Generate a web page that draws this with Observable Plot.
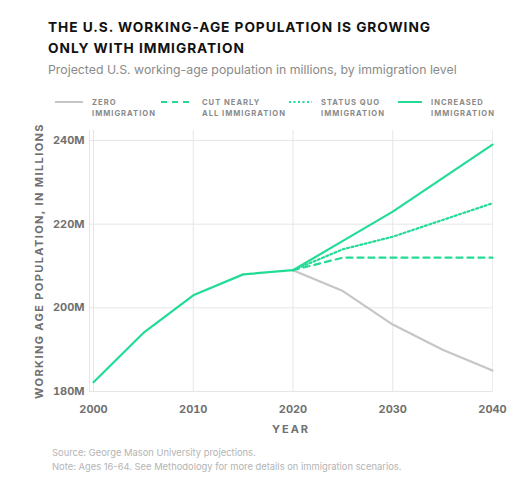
<!DOCTYPE html>
<html>
<head>
<meta charset="utf-8">
<script src="https://cdn.jsdelivr.net/npm/d3@7"></script>
<script src="https://cdn.jsdelivr.net/npm/@observablehq/plot@0.6"></script>
<style>
  html, body { margin: 0; padding: 0; background: #fff; }
  body { width: 531px; height: 490px; position: relative; overflow: hidden; font-family: Inter, "Noto Sans", sans-serif; }
  .title { position: absolute; left: 48px; top: 17px; font-size: 13.7px; font-weight: 700; letter-spacing: 0.95px; line-height: 21px; color: #111; }
  .subtitle { position: absolute; left: 48px; top: 62px; font-size: 12.3px; color: #8a8a8a; }
  .legend { position: absolute; top: 97px; left: 0; width: 531px; height: 24px; }
  .item { position: absolute; top: 0; }
  .item svg { position: absolute; top: 0; }
  .item .lab { position: absolute; top: 0; font-size: 7.6px; font-weight: 700; letter-spacing: 1px; line-height: 11px; color: #8a8a8a; white-space: nowrap; }
  #chart { position: absolute; left: 0; top: 120px; }
  #chart g[aria-label="y-axis label"] text { letter-spacing: 1.4px; font-weight: 700; font-size: 11px; fill: #707070; }
  #chart g[aria-label="x-axis label"] text { letter-spacing: 2px; font-weight: 700; font-size: 11px; fill: #707070; }
  .foot { position: absolute; left: 52px; top: 446px; font-size: 9.4px; color: #b4b4b4; line-height: 14px; }
</style>
</head>
<body>
<div class="title">THE U.S. WORKING-AGE POPULATION IS GROWING<br>ONLY WITH IMMIGRATION</div>
<div class="subtitle">Projected U.S. working-age population in millions, by immigration level</div>
<div class="legend" id="legend"></div>
<div id="chart"></div>
<div class="foot">Source: George Mason University projections.<br>Note: Ages 16-64. See Methodology for more details on immigration scenarios.</div>
<script>
const historyYears = [2000, 2005, 2010, 2015, 2020];
const historyValues = [182.2, 194, 203, 208, 209];
const projYears = [2020, 2025, 2030, 2035, 2040];
const zeroValues = [209, 204, 196, 190, 185];
const cutValues = [209, 212, 212, 212, 212];
const statusQuoValues = [209, 214, 217, 221, 225];
const increasedValues = [209, 216, 223, 231, 239];
const seriesNames = ["ZERO\nIMMIGRATION", "CUT NEARLY\nALL IMMIGRATION", "STATUS QUO\nIMMIGRATION", "INCREASED\nIMMIGRATION"];
const xTicks = [2000, 2010, 2020, 2030, 2040];
const yTicks = [180, 200, 220, 240];

const GREEN = "#22dc96";
const GRAY = "#c6c6c6";
const styles = [
  {stroke: GRAY, dash: null},
  {stroke: GREEN, dash: "6,5"},
  {stroke: GREEN, dash: "2,2.5"},
  {stroke: GREEN, dash: null}
];
const seriesValues = [zeroValues, cutValues, statusQuoValues, increasedValues];

const history = historyYears.map((y, i) => ({year: y, value: historyValues[i]}));
const proj = seriesValues.map(vals => projYears.map((y, i) => ({year: y, value: vals[i]})));

// legend
const legendPos = [[55, 92], [161, 202], [289, 321], [398, 431]];
const legend = document.getElementById("legend");
seriesNames.forEach((name, i) => {
  const it = document.createElement("div");
  it.className = "item";
  it.style.left = legendPos[i][0] + "px";
  const w = legendPos[i][1] - legendPos[i][0] - 9;
  it.innerHTML = `<svg width="${w}" height="10"><line x1="0" x2="${w}" y1="5" y2="5" stroke="${styles[i].stroke}" stroke-width="2" ${styles[i].dash ? `stroke-dasharray="${styles[i].dash}"` : ""}/></svg>`;
  const lab = document.createElement("div");
  lab.className = "lab";
  lab.style.left = (legendPos[i][1] - legendPos[i][0]) + "px";
  lab.innerHTML = name.replace("\n", "<br>");
  it.appendChild(lab);
  legend.appendChild(it);
});

const fontAxis = {fontFamily: "Inter, 'Noto Sans', sans-serif", fontWeight: 700, fontSize: 11, letterSpacing: "1px", fill: "#707070"};

const chart = Plot.plot({
  width: 531,
  height: 320,
  marginLeft: 89,
  marginRight: 39,
  marginTop: 10,
  marginBottom: 49,
  style: {fontFamily: "Inter, 'Noto Sans', sans-serif", background: "transparent", overflow: "visible"},
  x: {domain: [2000, 2040], insetLeft: 4},
  y: {domain: [180, 240], insetTop: 10},
  marks: [
    Plot.gridY(yTicks, {stroke: "#e6e6e6", strokeOpacity: 1, strokeWidth: 1}),
    Plot.gridX(xTicks, {stroke: "#e6e6e6", strokeOpacity: 1, strokeWidth: 1}),
    Plot.frame({anchor: "left", stroke: "#e6e6e6"}),
    Plot.frame({anchor: "right", stroke: "#ececec"}),
    Plot.axisY(yTicks, {
      tickSize: 0, tickPadding: 5, tickFormat: d => d + "M",
      label: "WORKING AGE POPULATION, IN MILLIONS", labelAnchor: "center", labelOffset: 54, labelArrow: "none",
      ...fontAxis, fontSize: 11
    }),
    Plot.axisX(xTicks, {
      tickSize: 0, tickPadding: 14, tickFormat: d => String(d),
      label: "YEAR", labelAnchor: "center", labelOffset: 41, labelArrow: "none",
      ...fontAxis
    }),
    ...proj.map((data, i) => Plot.line(data, {
      x: "year", y: "value", stroke: styles[i].stroke, strokeWidth: 2.2,
      strokeDasharray: styles[i].dash || undefined
    })),
    Plot.line(history, {x: "year", y: "value", stroke: GREEN, strokeWidth: 2.2})
  ]
});
document.getElementById("chart").appendChild(chart);
</script>
</body>
</html>
